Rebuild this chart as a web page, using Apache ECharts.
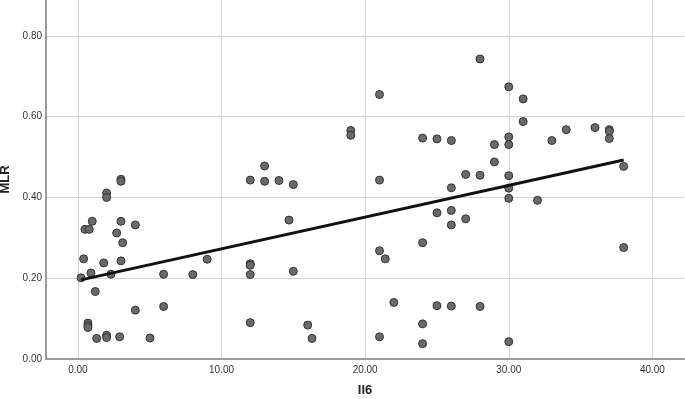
<!DOCTYPE html>
<html><head><meta charset="utf-8">
<script src="https://cdn.jsdelivr.net/npm/echarts@6/dist/echarts.min.js"></script>
<style>html,body{margin:0;padding:0;background:#fff}#c{width:685px;height:399px}</style>
</head><body><div id="c"></div>
<script>
const il6 = [0.22,0.40,0.49,0.79,0.70,0.70,0.70,0.91,1.0,1.21,1.31,1.8,2.0,2.0,2.0,2.0,2.3,2.7,2.91,3.0,3.0,3.0,3.12,3.0,4.0,4.0,5.02,5.97,5.97,8.0,9.0,
  12.0,12.0,12.0,12.0,12.0,13.0,13.0,14.0,14.7,15.0,15.0,16.0,16.3,19.0,19.0,
  21.0,21.0,21.0,21.0,21.4,22.0,24.0,24.0,24.0,24.0,25.0,25.0,25.0,26.0,26.0,26.0,26.0,26.0,27.0,27.0,28.0,28.0,28.0,29.0,29.0,
  30.0,30.0,30.0,30.0,30.0,30.0,30.0,31.0,31.0,32.0,33.0,34.0,36.0,37.0,37.0,37.0,38.0,38.0];
const mlr = [0.201,0.248,0.321,0.321,0.089,0.083,0.078,0.213,0.341,0.167,0.051,0.238,0.411,0.400,0.059,0.053,0.210,0.312,0.055,0.445,0.440,0.341,0.288,0.243,0.332,0.121,0.052,0.210,0.130,0.209,0.247,
  0.443,0.236,0.232,0.209,0.090,0.478,0.440,0.442,0.344,0.432,0.217,0.084,0.051,0.566,0.554,
  0.655,0.443,0.268,0.055,0.248,0.140,0.547,0.288,0.087,0.038,0.545,0.362,0.132,0.541,0.424,0.368,0.332,0.131,0.457,0.347,0.743,0.455,0.130,0.531,0.488,
  0.674,0.550,0.531,0.454,0.423,0.398,0.043,0.644,0.588,0.393,0.541,0.568,0.573,0.568,0.564,0.546,0.477,0.276];
const fitX = [0.22, 38.0];
const fitY = [0.196, 0.493];
const xTicks = [0, 10, 20, 30, 40];
const yTicks = [0, 0.2, 0.4, 0.6, 0.8];

const chart = echarts.init(document.getElementById('c'), null, {renderer: 'canvas'});
const lab = {color: '#333', fontSize: 10, fontFamily: 'Arial, Liberation Sans, sans-serif'};
chart.setOption({
  animation: false,
  grid: {left: 46, right: 1, top: 0, bottom: 40, containLabel: false, outerBoundsMode: 'none'},
  xAxis: {
    type: 'value', min: -2.22, max: 42.2,
    name: 'Il6', nameLocation: 'middle', nameGap: 25, nameMoveOverlap: false,
    nameTextStyle: {fontSize: 13, fontWeight: 'bold', color: '#222', fontFamily: 'Arial, Liberation Sans, sans-serif'},
    axisLine: {show: true, onZero: false, lineStyle: {color: '#9a9a9a', width: 2}},
    axisTick: {show: false, customValues: xTicks},
    axisLabel: Object.assign({customValues: xTicks, margin: 6, formatter: v => v.toFixed(2)}, lab),
    splitLine: {show: true, lineStyle: {color: '#d4d4d4', width: 1}}
  },
  yAxis: {
    type: 'value', min: 0, max: 0.889,
    name: 'MLR', nameLocation: 'middle', nameGap: 34, nameRotate: 90, nameMoveOverlap: false,
    nameTextStyle: {fontSize: 13, fontWeight: 'bold', color: '#222', fontFamily: 'Arial, Liberation Sans, sans-serif'},
    axisLine: {show: true, onZero: false, lineStyle: {color: '#9a9a9a', width: 2}},
    axisTick: {show: false, customValues: yTicks},
    axisLabel: Object.assign({customValues: yTicks, margin: 4, formatter: v => v.toFixed(2)}, lab),
    splitLine: {show: true, lineStyle: {color: '#d4d4d4', width: 1}}
  },
  series: [
    {type: 'scatter', symbol: 'circle', symbolSize: 8,
     data: il6.map((x, i) => [x, mlr[i]]),
     itemStyle: {color: '#6a6a6a', borderColor: '#333', borderWidth: 1, opacity: 1}},
    {type: 'line', data: fitX.map((x, i) => [x, fitY[i]]), showSymbol: false, symbol: 'none',
     lineStyle: {color: '#111', width: 3}, z: 5}
  ]
});
</script></body></html>
